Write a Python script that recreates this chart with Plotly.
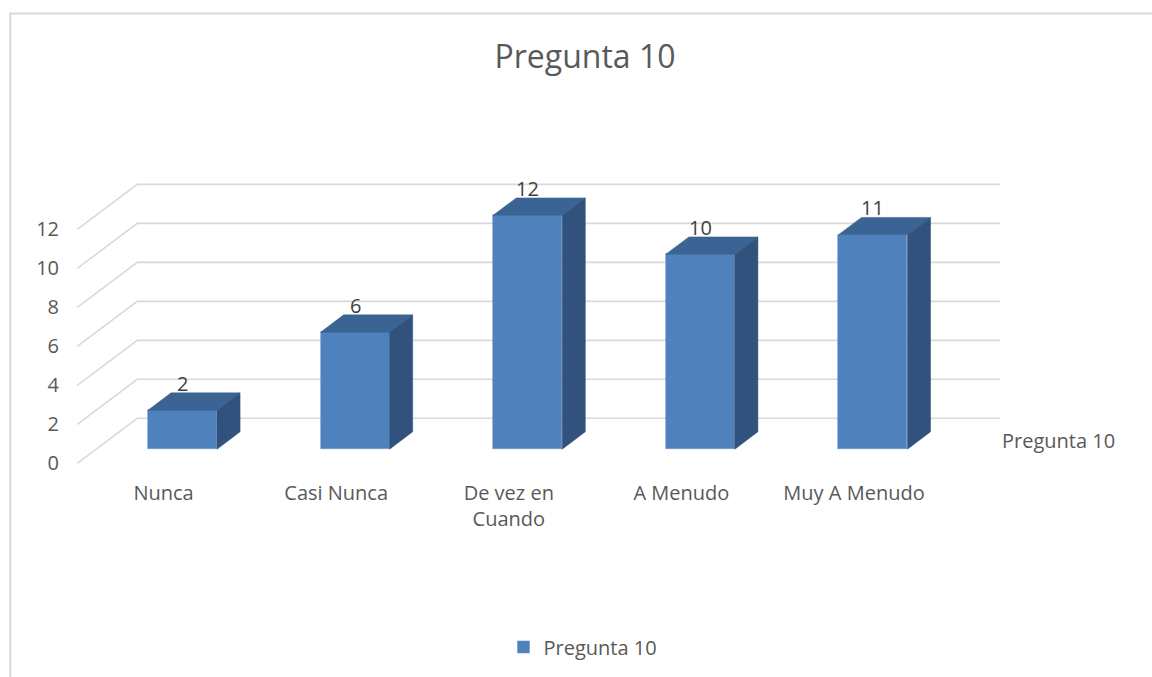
import plotly.graph_objects as go

# ---- data ----
categories = ["Nunca", "Casi Nunca", "De vez en<br>Cuando", "A Menudo", "Muy A Menudo"]
values = [2, 6, 12, 10, 11]
series_name = "Pregunta 10"
title_text = "Pregunta 10"
y_ticks = [0, 2, 4, 6, 8, 10, 12]

# ---- geometry of the pseudo-3D frame (data units) ----
DX = 0.3476      # depth offset along x (category units)
DY = 2.3136      # depth offset along y (value units)
D0, D1 = 0.315, 0.70   # bar front/back depth fractions
BW = 0.40        # bar width (category units)

FRONT = "#4F81BD"
TOP = "#3B6393"
SIDE = "#30527D"
GRID = "#D9D9D9"
TXT = "#595959"
FONT = "Open Sans"

W, H = 1152, 677
# pixel anchors: x=-0.5 -> 77px, 1 cat = 172.6px ; y=0 -> 463px, 1 unit = 19.45px
PXC, PXV = 172.6, 19.45
XR = [-0.6, 4.95]
YR = [-0.8, 15.0]
ml = 77 - (-0.5 - XR[0]) * PXC
pw = (XR[1] - XR[0]) * PXC
mr = W - ml - pw
mt = 463 - YR[1] * PXV
ph = (YR[1] - YR[0]) * PXV
mb = H - mt - ph

fig = go.Figure()
n = len(categories)

# back wall / floor gridlines (below the bars)
for v in y_ticks:
    path = "M {a},{b} L {c},{d} L {e},{d}".format(
        a=-0.5, b=v, c=-0.5 + DX, d=v + DY, e=n - 0.5 + DX)
    fig.add_shape(type="path", xref="x", yref="y", path=path,
                  line=dict(color=GRID, width=1.6), layer="below")

# top and side faces
for i, v in enumerate(values):
    xl0 = i - BW / 2 + D0 * DX
    xr0 = i + BW / 2 + D0 * DX
    xl1 = i - BW / 2 + D1 * DX
    xr1 = i + BW / 2 + D1 * DX
    yb0, yb1 = D0 * DY, D1 * DY
    yt0, yt1 = v + D0 * DY, v + D1 * DY
    fig.add_trace(go.Scatter(x=[xl0, xr0, xr1, xl1, xl0], y=[yt0, yt0, yt1, yt1, yt0],
                             fill="toself", fillcolor=TOP, mode="lines",
                             line=dict(color=TOP, width=0.5), hoverinfo="skip", showlegend=False))
    fig.add_trace(go.Scatter(x=[xr0, xr1, xr1, xr0, xr0], y=[yt0, yt1, yb1, yb0, yt0],
                             fill="toself", fillcolor=SIDE, mode="lines",
                             line=dict(color=SIDE, width=0.5), hoverinfo="skip", showlegend=False))

# front faces as real bars
fig.add_trace(go.Bar(x=[i + D0 * DX for i in range(n)], y=values, base=D0 * DY, width=BW,
                     marker=dict(color=FRONT, line=dict(color="#6C96CB", width=0.6)),
                     name=series_name, showlegend=True))

# data labels
for i, v in enumerate(values):
    fig.add_annotation(x=i + D0 * DX, y=v + D0 * DY, text=str(v), showarrow=False,
                       yanchor="middle", yshift=27, font=dict(family=FONT, size=20, color="#404040"))

# series (depth) axis label
fig.add_annotation(x=n - 0.5 + DX, y=0.5 * DY, text=series_name, showarrow=False,
                   xanchor="left", yanchor="middle", xshift=0,
                   font=dict(family=FONT, size=20, color=TXT))

# chart border
def px2paper_x(px):
    return (px - ml) / pw

def px2paper_y(py):
    return (mt + ph - py) / ph

fig.add_shape(type="rect", xref="paper", yref="paper",
              x0=px2paper_x(10), x1=px2paper_x(1170), y0=px2paper_y(700), y1=px2paper_y(14),
              line=dict(color=GRID, width=2), fillcolor="rgba(0,0,0,0)", layer="below")

fig.update_layout(
    width=W, height=H,
    margin=dict(l=ml, r=mr, t=mt, b=mb, autoexpand=False),
    paper_bgcolor="white", plot_bgcolor="white",
    title=dict(text=title_text, xref="container", yref="container", x=585 / W, y=1 - 57 / H,
               xanchor="center", yanchor="middle", font=dict(family=FONT, size=32, color=TXT)),
    xaxis=dict(range=XR, tickvals=list(range(n)), ticktext=categories, showgrid=False,
               zeroline=False, showline=False, ticks="", automargin=False,
               tickfont=dict(family=FONT, size=20, color=TXT)),
    yaxis=dict(range=YR, tickvals=y_ticks, showgrid=False, zeroline=False, showline=False,
               ticks="", automargin=False, tickfont=dict(family=FONT, size=20, color=TXT)),
    showlegend=True,
    legend=dict(orientation="h", xref="container", yref="container", x=583 / W, y=1 - 647 / H,
                xanchor="center", yanchor="middle", font=dict(family=FONT, size=20, color=TXT)),
    bargap=0,
)

fig.write_html("out.html", config={"displayModeBar": False},
               post_script="document.body.style.margin='0';")
